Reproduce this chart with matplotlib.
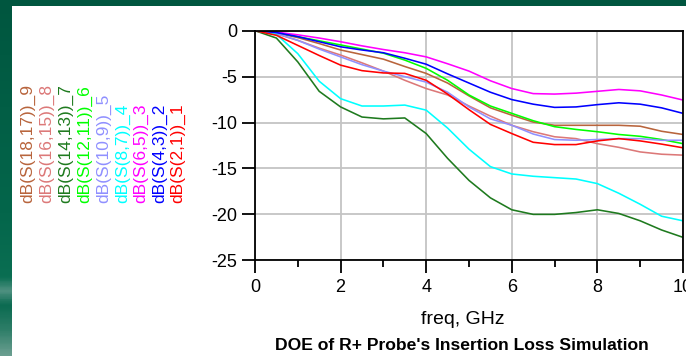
import matplotlib
matplotlib.use("Agg")
import matplotlib.pyplot as plt
import numpy as np
from matplotlib.colors import LinearSegmentedColormap

plt.rcParams['font.family'] = ['Liberation Sans', 'DejaVu Sans']
plt.rcParams['axes.unicode_minus'] = False

freq = [0, 0.5, 1, 1.5, 2, 2.5, 3, 3.5, 4, 4.5, 5, 5.5, 6, 6.5, 7, 7.5, 8, 8.5, 9, 9.5, 10]

s9 = [0, -0.25, -0.75, -1.4, -2.1, -2.6, -3.1, -3.9, -4.65, -5.7, -7.1, -8.4, -9.2, -9.95, -10.3, -10.3, -10.3, -10.3, -10.4, -10.95, -11.3]
s8 = [0, -0.35, -1.05, -1.9, -2.65, -3.5, -4.4, -5.4, -6.3, -7.0, -8.2, -9.3, -10.3, -11.0, -11.55, -11.75, -12.3, -12.7, -13.2, -13.45, -13.55]
s7 = [0, -0.8, -3.4, -6.6, -8.3, -9.4, -9.6, -9.5, -11.2, -13.9, -16.3, -18.2, -19.5, -20.0, -20.0, -19.8, -19.5, -19.9, -20.7, -21.7, -22.5]
s6 = [0, -0.2, -0.65, -1.1, -1.55, -2.0, -2.45, -3.2, -4.1, -5.4, -7.0, -8.2, -9.0, -9.8, -10.45, -10.75, -11.0, -11.3, -11.5, -11.85, -12.3]
s5 = [0, -0.3, -1.05, -2.0, -2.85, -3.7, -4.4, -5.0, -5.6, -6.7, -8.3, -9.6, -10.3, -11.25, -11.85, -11.93, -11.85, -11.75, -11.75, -11.93, -11.93]
s4 = [0, -0.4, -2.5, -5.5, -7.4, -8.2, -8.2, -8.1, -8.65, -10.6, -12.9, -14.8, -15.6, -15.85, -16.0, -16.15, -16.65, -17.7, -18.9, -20.2, -20.7]
s3 = [0, -0.15, -0.45, -0.8, -1.2, -1.65, -2.05, -2.4, -2.85, -3.6, -4.4, -5.45, -6.3, -6.85, -6.9, -6.8, -6.6, -6.4, -6.55, -7.0, -7.55]
s2 = [0, -0.2, -0.65, -1.2, -1.75, -2.1, -2.4, -3.0, -3.65, -4.7, -5.7, -6.7, -7.5, -8.0, -8.35, -8.3, -8.05, -7.85, -8.0, -8.4, -9.0]
s1 = [0, -0.5, -1.6, -2.7, -3.75, -4.35, -4.6, -4.65, -5.4, -6.9, -8.6, -10.2, -11.2, -12.15, -12.4, -12.4, -12.0, -11.75, -12.0, -12.35, -12.75]

labels = ["dB(S(18,17))_9", "dB(S(16,15))_8", "dB(S(14,13))_7", "dB(S(12,11))_6",
          "dB(S(10,9))_5", "dB(S(8,7))_4", "dB(S(6,5))_3", "dB(S(4,3))_2", "dB(S(2,1))_1"]
series = [s9, s8, s7, s6, s5, s4, s3, s2, s1]
colors = ["#B8643C", "#DC7878", "#1E7A1E", "#00FF00", "#9090FF", "#00FFFF", "#FF00FF", "#0000FF", "#FF0000"]

yticks = [0, -5, -10, -15, -20, -25]
xticks = [0, 2, 4, 6, 8, 10]
xminor = [1, 3, 5, 7, 9]

W, H = 686, 356
fig = plt.figure(figsize=(W/100, H/100), dpi=100, facecolor="white")

# green frame decoration
bg = fig.add_axes([0, 0, 1, 1], zorder=-10)
bg.set_axis_off()
bg.add_patch(plt.Rectangle((0, 0), W, 6, color="#00563F", lw=0))
grad = np.linspace(0, 1, 200).reshape(-1, 1)
cm = LinearSegmentedColormap.from_list(
    "g", [(0, "#00563F"), (0.6, "#04664B"), (0.78, "#0A6E52"), (0.82, "#4E9080"),
          (0.86, "#0A6A50"), (0.93, "#2E7E68"), (1.0, "#6A9E90")])
bg.imshow(grad, cmap=cm, extent=(0, 12, H, 0), aspect="auto")
bg.set_xlim(0, W); bg.set_ylim(H, 0)

ax = fig.add_axes([255/W, 1 - 260.3/H, 428/W, 229.6/H])
for s, c in zip(series, colors):
    ax.plot(freq, s, color=c, lw=1.15)

ax.set_xlim(0, 10)
ax.set_ylim(-25, 0)
ax.set_xticks(xticks)
ax.set_xticks(xminor, minor=True)
ax.set_yticks(yticks)
ax.set_yticklabels([str(v) for v in yticks])
ax.set_xticklabels([str(v) for v in xticks])
ax.grid(True, color="#C4C4C4", lw=1.3)
ax.set_axisbelow(True)
for sp in ax.spines.values():
    sp.set_color("black"); sp.set_linewidth(1.3)
ax.tick_params(axis='y', length=9.4, width=1.3, labelsize=13, pad=3.6)
ax.tick_params(axis='x', which='major', length=9.4, width=1.3, labelsize=13, pad=4.3)
ax.tick_params(axis='x', which='minor', length=5, width=1.3)

fig.text(462.5/W, 1 - 320/H, "freq, GHz", ha="center", va="center", fontsize=14)
fig.text(461.5/W, 1 - 345/H, "DOE of R+ Probe's Insertion Loss Simulation", ha="center", va="center",
         fontsize=12.6, fontweight="bold")

xs = [28, 47, 66, 85, 104, 123, 141, 160, 178]
for x, lab, c in zip(xs, labels, colors):
    fig.text(x/W, 1 - 203/H, lab, rotation=90, ha="center", va="bottom", color=c, fontsize=12.5)

fig.savefig("out.png", dpi=100, facecolor="white")
